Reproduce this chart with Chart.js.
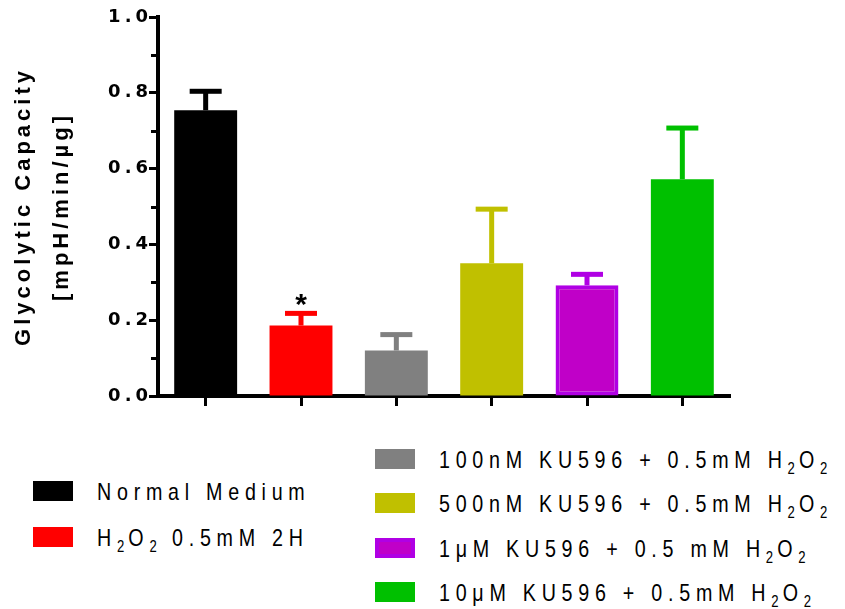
<!DOCTYPE html>
<html>
<head>
<meta charset="utf-8">
<script src="https://cdn.jsdelivr.net/npm/chart.js@4.4.0/dist/chart.umd.min.js"></script>
<style>
  html, body { margin: 0; padding: 0; background: #fff; }
  #wrap { position: relative; width: 845px; height: 609px; overflow: hidden; font-family: "Liberation Sans", Arial, sans-serif; }
  #chart { position: absolute; left: 0; top: 0; }
  .item { position: absolute; height: 20px; line-height: 20px; white-space: nowrap; }
  .sw { position: absolute; left: 0; top: 0; width: 40px; height: 20px; box-sizing: border-box; }
  .txt { position: absolute; left: 64px; top: 1px; font-size: 24px; letter-spacing: 7px; transform: scaleX(0.82); transform-origin: 0 50%; color: #000; }
  .txt sub { font-size: 16px; vertical-align: -6px; line-height: 0; letter-spacing: 5px; }
</style>
</head>
<body>
<div id="wrap">
  <canvas id="chart" width="845" height="420"></canvas>
  <div id="legend"></div>
</div>
<script>
// data
const categories = ['Normal Medium', 'H2O2 0.5mM 2H', '100nM KU596 + 0.5mM H2O2',
  '500nM KU596 + 0.5mM H2O2', '1\u03bcM KU596 + 0.5 mM H2O2', '10\u03bcM KU596 + 0.5mM H2O2'];
const means = [0.754, 0.186, 0.120, 0.350, 0.292, 0.572];
const errors = [0.050, 0.032, 0.042, 0.143, 0.029, 0.135];
const marks = ['', '*', '', '', '', ''];
const minorTicks = [0.1, 0.3, 0.5, 0.7, 0.9];

const fills = ['#000000', '#ff0000', '#808080', '#c0c000', '#c000c8', '#00c000'];
const borders = ['#000000', '#ff0000', '#808080', '#c0c000', '#b000e4', '#00c000'];
const borderWidths = [0, 0, 0, 0, 4, 0];

// legend placement (left column / right column)
const legendPos = [[33, 481], [33, 527], [375, 449], [375, 493], [375, 538], [375, 582]];

const legend = document.getElementById('legend');
categories.forEach((name, i) => {
  const item = document.createElement('div');
  item.className = 'item';
  item.style.left = legendPos[i][0] + 'px';
  item.style.top = legendPos[i][1] + 'px';
  const sw = document.createElement('div');
  sw.className = 'sw';
  sw.style.background = fills[i];
  if (borderWidths[i]) sw.style.border = '4px solid ' + borders[i];
  const txt = document.createElement('span');
  txt.className = 'txt';
  txt.innerHTML = name.replace(/H2O2/g, 'H<sub>2</sub>O<sub>2</sub>');
  item.appendChild(sw);
  item.appendChild(txt);
  legend.appendChild(item);
});

const spacing = {
  id: 'spacing',
  beforeUpdate(chart) { chart.ctx.letterSpacing = '4px'; },
  beforeDraw(chart) { chart.ctx.letterSpacing = '4px'; }
};

const errorBars = {
  id: 'errorBars',
  afterDatasetsDraw(chart) {
    const ctx = chart.ctx;
    const y = chart.scales.y;
    const meta = chart.getDatasetMeta(0);
    ctx.save();
    meta.data.forEach((bar, i) => {
      const top = y.getPixelForValue(means[i]);
      const end = y.getPixelForValue(means[i] + errors[i]);
      ctx.fillStyle = borders[i];
      ctx.fillRect(bar.x - 2.5, end, 5, top - end);
      ctx.fillRect(bar.x - 16, end - 2.5, 32, 5);
      if (marks[i]) {
        ctx.letterSpacing = '0px';
        ctx.fillStyle = '#000';
        ctx.font = 'bold 30px "Liberation Sans", Arial, sans-serif';
        ctx.textAlign = 'center';
        ctx.textBaseline = 'alphabetic';
        ctx.fillText(marks[i], bar.x, end + 1);
      }
    });
    ctx.restore();
  },
  afterDraw(chart) {
    const ctx = chart.ctx;
    const y = chart.scales.y;
    const left = chart.chartArea.left;
    ctx.save();
    ctx.strokeStyle = '#000';
    ctx.lineWidth = 3;
    minorTicks.forEach(v => {
      const py = Math.round(y.getPixelForValue(v)) + 0.5;
      ctx.beginPath();
      ctx.moveTo(left - 7, py);
      ctx.lineTo(left - 2, py);
      ctx.stroke();
    });
    ctx.restore();
  }
};

new Chart(document.getElementById('chart'), {
  type: 'bar',
  data: {
    labels: categories,
    datasets: [{
      data: means,
      backgroundColor: fills,
      borderColor: borders,
      borderWidth: borderWidths,
      borderSkipped: false,
      barPercentage: 0.66,
      categoryPercentage: 1.0
    }]
  },
  options: {
    responsive: false,
    animation: false,
    layout: { padding: { top: 17, right: 115, bottom: 0, left: 0 } },
    plugins: { legend: { display: false }, tooltip: { enabled: false } },
    scales: {
      x: {
        z: 1,
        ticks: { display: false },
        grid: { offset: false, drawOnChartArea: false, color: '#000', tickLength: 10, tickWidth: 3 },
        border: { color: '#000', width: 4 },
        afterFit(scale) { scale.height = 24; }
      },
      y: {
        z: 1,
        min: 0,
        max: 1,
        ticks: {
          stepSize: 0.2,
          padding: -3,
          color: '#000',
          font: { family: '"DejaVu Sans", sans-serif', size: 18, weight: 'bold' },
          callback: v => v.toFixed(1)
        },
        grid: { drawOnChartArea: false, color: '#000', tickLength: 9, tickWidth: 3 },
        border: { color: '#000', width: 4 },
        title: {
          display: true,
          text: ['Glycolytic Capacity', '[mpH/min/\u00b5g]'],
          color: '#000',
          font: { family: '"Liberation Sans", Arial, sans-serif', size: 22, weight: 'bold', lineHeight: 1.71 },
          padding: { top: 5.6, bottom: 0 }
        },
        afterFit(scale) { scale.width = 158; }
      }
    }
  },
  plugins: [spacing, errorBars]
});
</script>
</body>
</html>
